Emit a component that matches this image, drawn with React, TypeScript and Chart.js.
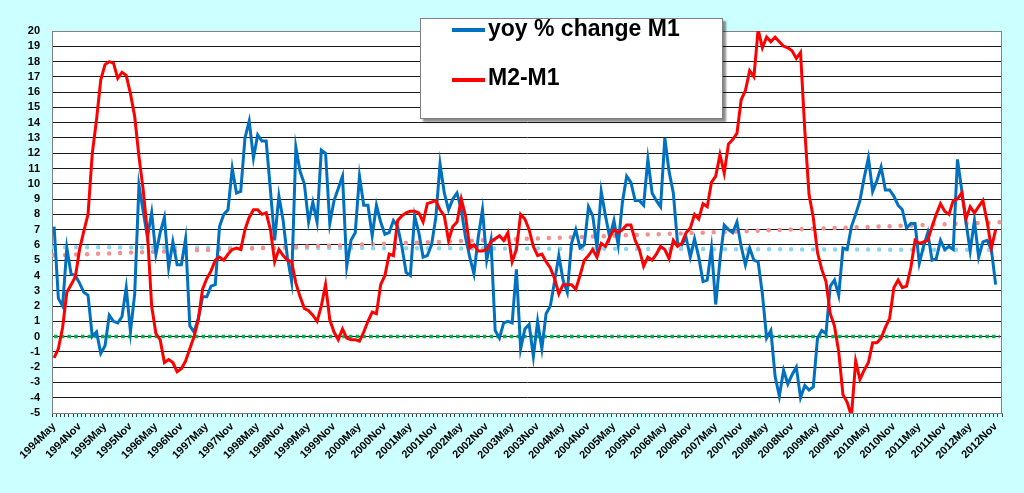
import { useEffect, useRef } from "react";
import { Chart, registerables } from "chart.js";

Chart.register(...registerables);

// monthly categories, 1994May .. 2012Dec (the last month carries no data)
const MONTHS = ["Jan", "Feb", "Mar", "Apr", "May", "Jun", "Jul", "Aug", "Sep", "Oct", "Nov", "Dec"];
const START_YEAR = 1994;
const START_MONTH = 4;
const MONTH_COUNT = 224;
const categories: string[] = Array.from({ length: MONTH_COUNT }, (_, i) => {
  const m = START_MONTH + i;
  return `${START_YEAR + Math.floor(m / 12)}${MONTHS[m % 12]}`;
});
const labelMonths = ["May", "Nov"];

const yoyM1 = [
  7.2, 2.5, 2.0, 5.8, 4.1, 4.0, 3.5, 2.9, 2.7, 0.0, 0.3, -1.1,
  -0.6, 1.4, 1.0, 0.9, 1.3, 3.2, 0.3, 2.8, 9.9, 8.2, 6.5, 8.1,
  5.4, 6.8, 7.8, 4.5, 6.2, 4.7, 4.7, 6.4, 0.7, 0.3, 1.2, 2.6,
  2.6, 3.3, 3.4, 7.2, 8.0, 8.3, 11.0, 9.4, 9.5, 13.0, 14.1, 11.7,
  13.2, 12.8, 12.8, 9.6, 6.3, 9.2, 7.6, 5.2, 3.6, 12.4, 10.8, 10.0,
  7.5, 8.8, 7.5, 12.2, 12.0, 7.4, 8.9, 9.7, 10.5, 4.6, 6.3, 6.8,
  10.5, 8.6, 8.6, 6.6, 8.6, 7.5, 6.7, 6.8, 7.6, 7.2, 5.9, 4.2,
  4.0, 7.9, 6.8, 5.2, 5.3, 6.0, 7.8, 11.3, 9.4, 8.3, 9.0, 9.4,
  8.3, 6.5, 5.2, 4.1, 6.5, 8.3, 5.0, 6.3, 0.4, -0.1, 0.9, 1.0,
  0.9, 4.4, -0.8, 0.5, 0.8, -1.3, 1.0, -0.8, 1.5, 2.0, 3.6, 5.3,
  3.7, 2.9, 6.1, 7.0, 5.8, 6.0, 8.5, 7.9, 5.8, 9.5, 7.9, 6.5,
  7.6, 6.0, 8.8, 10.5, 10.1, 8.9, 8.9, 8.6, 11.6, 9.4, 8.9, 8.5,
  13.0, 10.8, 9.4, 6.1, 6.0, 6.5, 5.2, 6.4, 5.2, 3.6, 3.7, 5.8,
  2.1, 5.0, 7.3, 7.0, 6.8, 7.5, 5.9, 4.7, 5.8, 5.0, 4.9, 2.8,
  -0.1, 0.4, -2.6, -3.9, -2.2, -3.1, -2.5, -2.0, -4.0, -3.2, -3.5, -3.3,
  -0.1, 0.4, 0.2, 3.3, 3.7, 2.7, 5.8, 5.7, 7.2, 8.0, 8.9, 10.4,
  11.7, 9.5, 10.2, 11.1, 9.6, 9.6, 9.2, 8.6, 8.3, 7.1, 7.4, 7.4,
  4.8, 5.9, 6.8, 5.0, 5.1, 6.3, 5.7, 5.9, 5.7, 11.6, 9.6, 7.5,
  5.6, 7.6, 5.2, 6.2, 6.3, 5.7, 3.4,
];

const m2MinusM1 = [
  -1.4, -0.8, 0.6, 2.9, 3.4, 3.9, 5.7, 6.9, 8.0, 12.0, 14.2, 16.8,
  17.8, 18.0, 17.9, 16.9, 17.3, 17.1, 15.9, 14.4, 11.8, 9.6, 6.8, 2.0,
  0.2, -0.2, -1.7, -1.5, -1.7, -2.3, -2.1, -1.6, -0.8, 0.0, 1.1, 3.1,
  3.8, 4.3, 5.0, 5.2, 5.0, 5.4, 5.7, 5.8, 5.7, 7.0, 7.8, 8.3,
  8.3, 8.0, 8.1, 7.0, 4.9, 5.7, 5.3, 5.0, 4.9, 3.5, 2.6, 1.85,
  1.7, 1.4, 1.0, 2.0, 3.4, 1.1, 0.3, -0.2, 0.5, -0.1, -0.2, -0.2,
  -0.3, 0.3, 1.0, 1.6, 1.5, 3.4, 4.0, 5.4, 5.3, 7.6, 7.9, 8.1,
  8.2, 8.2, 8.1, 7.5, 8.7, 8.8, 8.9, 8.3, 7.9, 6.3, 7.2, 7.5,
  9.0, 7.9, 5.8, 6.0, 5.6, 5.6, 5.7, 6.2, 6.4, 6.6, 6.3, 6.8,
  4.9, 5.7, 8.0, 7.7, 7.0, 5.9, 5.3, 5.4, 4.9, 4.5, 3.8, 2.8,
  3.4, 3.4, 3.4, 3.1, 4.0, 5.0, 5.3, 5.7, 5.2, 6.1, 5.9, 6.5,
  7.0, 6.8, 7.0, 7.3, 7.3, 6.3, 5.7, 4.6, 5.2, 5.0, 5.4, 5.9,
  5.7, 5.1, 6.3, 5.9, 6.1, 6.8, 7.1, 8.0, 7.7, 8.7, 8.5, 10.1,
  10.5, 11.9, 10.7, 12.6, 12.9, 13.3, 15.5, 16.1, 17.4, 17.0, 20.1, 18.9,
  19.6, 19.3, 19.6, 19.3, 19.0, 18.9, 18.7, 18.2, 18.6, 13.5, 9.3, 7.8,
  5.5, 4.4, 3.6, 1.5, 0.7, -1.0, -3.8, -4.3, -5.2, -1.6, -2.8, -2.2,
  -1.7, -0.4, -0.4, -0.1, 0.6, 1.2, 3.2, 3.7, 3.2, 3.3, 4.5, 6.3,
  6.1, 6.2, 6.3, 7.2, 8.0, 8.7, 8.2, 8.0, 8.9, 9.0, 9.4, 7.7,
  8.5, 8.1, 8.5, 8.9, 7.5, 5.8, 7.0,
];

// dotted reference lines: values at the first and last category
const yoyTrend = [5.85, 5.67];
const m2m1Trend = [5.32, 7.48];
const zeroLine = [0, 0];

const FONT = "'Liberation Sans', Arial, sans-serif";

const ends = (vals: number[]) => [
  { x: categories[0], y: vals[0] },
  { x: categories[categories.length - 1], y: vals[1] },
];

const plotFrame = {
  id: "plotFrame",
  beforeDraw(chart: Chart) {
    const { ctx, chartArea: a } = chart;
    ctx.save();
    ctx.fillStyle = "#ffffff";
    ctx.fillRect(a.left, a.top, a.right - a.left, a.bottom - a.top);
    ctx.restore();
  },
  beforeDatasetsDraw(chart: Chart) {
    const { ctx, chartArea: a } = chart;
    ctx.save();
    ctx.strokeStyle = "#808080";
    ctx.lineWidth = 1;
    ctx.strokeRect(a.left + 0.5, a.top + 0.5, a.right - a.left - 1, a.bottom - a.top);
    ctx.restore();
  },
};

function MoneyChart() {
  const canvasRef = useRef<HTMLCanvasElement>(null);
  const chartRef = useRef<Chart | null>(null);

  useEffect(() => {
    if (!canvasRef.current) return;
    chartRef.current?.destroy();
    chartRef.current = new Chart(canvasRef.current, {
      type: "line",
      data: {
        labels: categories,
        datasets: [
          {
            label: "zero",
            data: ends(zeroLine) as any,
            borderColor: "#00b050",
            borderWidth: 3.5,
            borderDash: [3.5, 3.2],
            pointRadius: 0,
            order: 5,
          },
          {
            label: "yoy trend",
            data: ends(yoyTrend) as any,
            borderColor: "#8ad4f5",
            borderWidth: 4.5,
            borderDash: [0, 11],
            borderCapStyle: "round",
            pointRadius: 0,
            order: 4,
          },
          {
            label: "M2-M1 trend",
            data: ends(m2m1Trend) as any,
            borderColor: "#f39090",
            borderWidth: 4.5,
            borderDash: [0, 11],
            borderCapStyle: "round",
            pointRadius: 0,
            order: 3,
          },
          {
            label: "yoy % change M1",
            data: yoyM1,
            borderColor: "#0070c0",
            borderWidth: 3,
            pointRadius: 0,
            tension: 0,
            order: 2,
          },
          {
            label: "M2-M1",
            data: m2MinusM1,
            borderColor: "#ff0000",
            borderWidth: 3,
            pointRadius: 0,
            tension: 0,
            order: 1,
          },
        ],
      },
      options: {
        animation: false,
        responsive: false,
        clip: 0 as any,
        layout: { padding: { top: 31, right: 22, left: 0, bottom: 0 } },
        plugins: {
          legend: { display: false },
          tooltip: { enabled: false },
        },
        scales: {
          x: {
            type: "category",
            offset: true,
            afterFit: (s: any) => {
              s.height = 80;
            },
            grid: {
              drawOnChartArea: false,
              drawTicks: true,
              tickLength: 4,
              color: "#404040",
              offset: true,
            },
            border: { color: "#707070", width: 1 },
            ticks: {
              autoSkip: false,
              minRotation: 45,
              maxRotation: 45,
              padding: 3,
              color: "#000",
              font: { family: FONT, size: 11, weight: "bold" },
              callback: (_v: any, i: number) =>
                labelMonths.some((m) => categories[i].endsWith(m)) ? categories[i] : "",
            },
          },
          y: {
            min: -5,
            max: 20,
            afterFit: (s: any) => {
              s.width = 52;
            },
            grid: { color: "#1a1a1a", lineWidth: 1, drawTicks: false },
            border: { color: "#808080" },
            ticks: {
              stepSize: 1,
              autoSkip: false,
              padding: 12,
              color: "#000",
              font: { family: FONT, size: 11, weight: "bold" },
              callback: (v: any) => String(v),
            },
          },
        },
      },
      plugins: [plotFrame],
    });
    return () => chartRef.current?.destroy();
  }, []);

  return (
    <div
      style={{
        position: "fixed",
        left: 0,
        top: 0,
        width: 1024,
        height: 493,
        background: "#ccffff",
        fontFamily: FONT,
      }}
    >
      <canvas
        ref={canvasRef}
        width={1024}
        height={493}
        style={{ position: "absolute", left: 0, top: 0, width: 1024, height: 493 }}
        role="img"
        aria-label="Monthly yoy % change in M1 and M2-M1, May 1994 to November 2012"
      />
      <div
        style={{
          position: "absolute",
          left: 420,
          top: 18,
          width: 301,
          height: 99,
          background: "#fff",
          border: "1px solid #808080",
          boxShadow: "3px 3px 2px rgba(0,0,0,0.45)",
        }}
      >
        <div style={{ position: "absolute", left: 31, top: 9, width: 33, height: 4, background: "#0070c0" }} />
        <div
          style={{
            position: "absolute",
            left: 67,
            top: -2,
            fontSize: 23,
            fontWeight: "bold",
            lineHeight: 1,
            whiteSpace: "nowrap",
            color: "#000",
          }}
        >
          yoy % change M1
        </div>
        <div style={{ position: "absolute", left: 31, top: 59, width: 33, height: 4, background: "#ff0000" }} />
        <div
          style={{
            position: "absolute",
            left: 67,
            top: 47,
            fontSize: 23,
            fontWeight: "bold",
            lineHeight: 1,
            whiteSpace: "nowrap",
            color: "#000",
          }}
        >
          M2-M1
        </div>
      </div>
    </div>
  );
}

export default function App() {
  return <MoneyChart />;
}
